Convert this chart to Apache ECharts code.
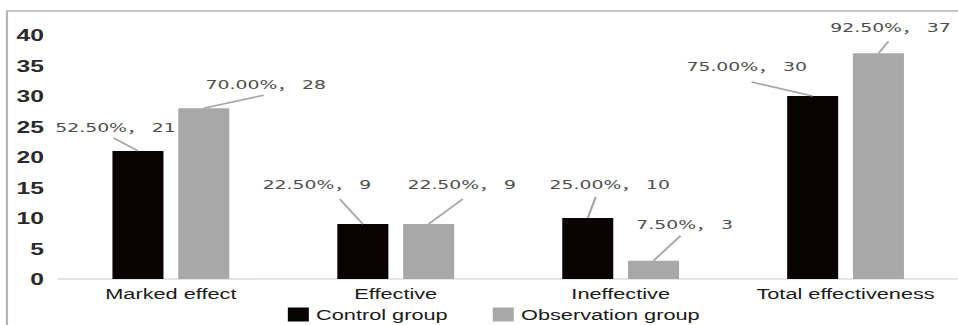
<!DOCTYPE html>
<html>
<head>
<meta charset="utf-8">
<script src="https://cdn.jsdelivr.net/npm/echarts@6/dist/echarts.min.js"></script>
<style>
  html, body { margin: 0; padding: 0; background: #fff; overflow: hidden; }
  #wrap { width: 958px; height: 325px; overflow: hidden; }
  /* the chart is laid out narrow and widened horizontally */
  #chart { width: 661px; height: 325px; transform: scaleX(1.44932); transform-origin: 0 0; }
</style>
</head>
<body>
<div id="wrap"><div id="chart"></div></div>
<script>
// ---- data ----
const categories = ['Marked effect', 'Effective', 'Ineffective', 'Total effectiveness'];
const controlCounts = [21, 9, 10, 30];
const observationCounts = [28, 9, 3, 37];
const controlPercents = [52.5, 22.5, 25.0, 75.0];
const observationPercents = [70.0, 22.5, 7.5, 92.5];
const seriesNames = ['Control group', 'Observation group'];
const yMin = 0, yMax = 40, yStep = 5;

// ---- styling ----
const SANS = 'Arial, "Liberation Sans", sans-serif';
const BAR_W = 35.2;
const BAR_GAP = 0.29;
const barShift = (BAR_W + BAR_W * BAR_GAP) / 2;

// callout placement relative to each bar's top centre: label centre (dx,dy), leader end (ex,ey)
const controlCallouts = [
  { dx: -15.5, dy: -23, ex: -16.9, ey: -13 },
  { dx: -31.7, dy: -40, ex: -15.9, ey: -25 },
  { dx: 15.2, dy: -33, ex: 5.5, ey: -21 },
  { dx: -45.5, dy: -29, ex: -42.1, ey: -14 }
];
const observationCallouts = [
  { dx: 42.8, dy: -24, ex: 41.4, ey: -13 },
  { dx: 22.8, dy: -40, ex: 23.5, ey: -25 },
  { dx: 21.4, dy: -36, ex: 18.6, ey: -25 },
  { dx: 8.3, dy: -26, ex: 6.9, ey: -12 }
];

function calloutSeries(counts, percents, side, callouts) {
  return {
    type: 'custom',
    silent: true,
    z: 5,
    data: counts.map((v, i) => [i, v, percents[i]]),
    encode: { x: 0, y: 1 },
    renderItem(params, api) {
      const i = params.dataIndex;
      const p = api.coord([api.value(0), api.value(1)]);
      const cx = p[0] + side * barShift;
      const cy = p[1];
      const c = callouts[i];
      const txt = api.value(2).toFixed(2) + '%， ' + api.value(1);
      return {
        type: 'group',
        children: [
          {
            type: 'line',
            shape: { x1: cx, y1: cy, x2: cx + c.ex, y2: cy + c.ey },
            style: { stroke: '#a6a6a6', lineWidth: 1.5 }
          },
          {
            type: 'text',
            x: cx + c.dx,
            y: cy + c.dy,
            style: {
              text: txt,
              fill: '#4d4d4d',
              fontSize: 13,
              fontFamily: '"DejaVu Sans", "Noto Sans CJK SC", sans-serif',
              align: 'center', verticalAlign: 'middle',
              textAlign: 'center', textVerticalAlign: 'middle'
            }
          }
        ]
      };
    }
  };
}

const chart = echarts.init(document.getElementById('chart'), null, { renderer: 'svg' });
chart.setOption({
  animation: false,
  backgroundColor: '#fff',
  graphic: [{
    type: 'rect', silent: true, z: -1,
    shape: { x: 4.8, y: 11, width: 700, height: 400 },
    style: { fill: 'none', stroke: '#b3b3b3', lineWidth: 1.5 }
  }],
  grid: { left: 40.3, right: -3.4, top: 35, bottom: 46, containLabel: false },
  legend: {
    data: seriesNames,
    left: 198.6, top: 307,
    padding: 0,
    itemWidth: 14.5, itemHeight: 14, itemGap: 31,
    icon: 'rect',
    textStyle: { fontSize: 15, color: '#1a1a1a', fontFamily: SANS }
  },
  xAxis: {
    type: 'category',
    data: categories,
    axisTick: { show: false },
    axisLine: { lineStyle: { color: '#dcdcdc', width: 1.5 } },
    axisLabel: { interval: 0, fontSize: 15, color: '#1a1a1a', fontFamily: SANS, margin: 7 }
  },
  yAxis: {
    type: 'value',
    min: yMin, max: yMax, interval: yStep,
    splitLine: { show: false },
    axisLine: { show: false },
    axisTick: { show: false },
    axisLabel: { fontSize: 17, fontWeight: 'bold', color: '#2a2a2a', fontFamily: SANS, margin: 10 }
  },
  series: [
    {
      name: seriesNames[0], type: 'bar',
      data: controlCounts,
      barWidth: BAR_W, barGap: (BAR_GAP * 100) + '%',
      itemStyle: { color: '#080404' }
    },
    {
      name: seriesNames[1], type: 'bar',
      data: observationCounts,
      barWidth: BAR_W, barGap: (BAR_GAP * 100) + '%',
      itemStyle: { color: '#a8a8a8' }
    },
    calloutSeries(controlCounts, controlPercents, -1, controlCallouts),
    calloutSeries(observationCounts, observationPercents, 1, observationCallouts)
  ]
});
</script>
</body>
</html>
